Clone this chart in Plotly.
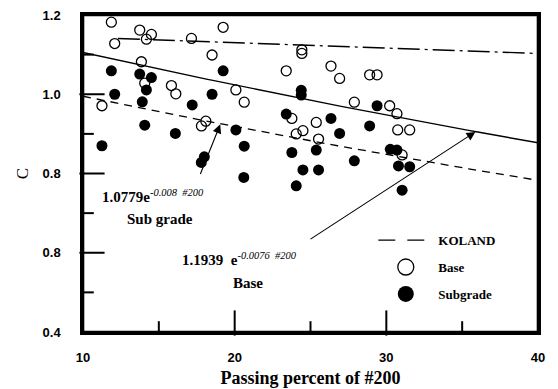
import numpy as np
import plotly.graph_objects as go

# ---- data ----
base_x = [11.87, 13.74, 14.51, 14.18, 12.09, 17.15, 19.24, 18.51, 13.85, 14.07, 15.83, 16.12,
          20.08, 20.63, 11.25, 18.10, 17.81, 24.43, 24.43, 23.40, 26.35, 26.92, 28.90, 29.39,
          27.89, 30.22, 30.70, 23.77, 25.38, 24.50, 24.06, 25.53, 30.75, 31.54, 31.04]
base_c = [1.182, 1.162, 1.151, 1.139, 1.128, 1.141, 1.169, 1.099, 1.082, 1.028, 1.022, 1.001,
          1.011, 0.980, 0.971, 0.932, 0.920, 1.112, 1.103, 1.059, 1.071, 1.040, 1.049, 1.049,
          0.980, 0.971, 0.951, 0.939, 0.929, 0.908, 0.900, 0.887, 0.910, 0.910, 0.847]

sub_x = [11.87, 13.74, 14.51, 14.18, 12.09, 13.91, 19.24, 18.51, 17.20, 14.07, 16.09, 11.25,
         17.80, 18.00, 20.08, 20.63, 20.60, 24.39, 24.39, 23.40, 26.35, 29.39, 28.90, 26.92,
         23.77, 25.38, 27.89, 30.26, 30.70, 30.80, 31.54, 24.50, 25.53, 24.06, 31.04]
sub_c = [1.059, 1.051, 1.042, 1.011, 1.000, 0.981, 1.059, 1.000, 0.973, 0.922, 0.901, 0.870,
         0.828, 0.842, 0.910, 0.869, 0.790, 1.010, 0.998, 0.950, 0.939, 0.971, 0.920, 0.901,
         0.853, 0.859, 0.832, 0.861, 0.859, 0.819, 0.817, 0.809, 0.809, 0.769, 0.758]

# fitted curves  C = a * exp(b * P200)
base_fit = (1.1939, -0.0077)
sub_fit = (1.0779, -0.008)
koland_fit = (1.158, -0.00122)
fit_range = [10, 40]
koland_range = [12.3, 40]

x_range = [10, 40]
y_range = [0.4, 1.2]
x_ticks = [10, 20, 30, 40]
x_ticktext = ["10", "20", "30", "40"]
x_minor = [15, 25, 35]
y_tickvals = [0.4, 0.6, 0.8, 1.0, 1.2]
y_ticktext = ["0.4", "0.8", "0.8", "1.0", "1.2"]
y_minor = [0.5, 0.7, 0.9, 1.1]

SERIF = "Liberation Serif, Times New Roman, serif"
SANS = "Liberation Sans, Arial, sans-serif"

W, H = 558, 389
M = dict(l=83, r=20, t=15, b=57)
plot_w = W - M["l"] - M["r"]
plot_h = H - M["t"] - M["b"]
ux = (x_range[1] - x_range[0]) / plot_w   # data units per pixel
uy = (y_range[1] - y_range[0]) / plot_h
MAJ, MIN = 18, 9                           # tick lengths in px
FRAME = 2.6                                # frame thickness in px


def curve(fit, rng):
    xs = np.linspace(rng[0], rng[1], 60)
    return xs, fit[0] * np.exp(fit[1] * xs)


fig = go.Figure()

xs, ys = curve(koland_fit, koland_range)
fig.add_trace(go.Scatter(x=xs, y=ys, mode="lines", showlegend=False, hoverinfo="skip",
                         line=dict(color="black", width=1.3, dash="22px,5px,3px,5px")))
xs, ys = curve(base_fit, fit_range)
fig.add_trace(go.Scatter(x=xs, y=ys, mode="lines", showlegend=False, hoverinfo="skip",
                         line=dict(color="black", width=1.4)))
xs, ys = curve(sub_fit, fit_range)
fig.add_trace(go.Scatter(x=xs, y=ys, mode="lines", showlegend=False, hoverinfo="skip",
                         line=dict(color="black", width=1.3, dash="8px,6px")))

fig.add_trace(go.Scatter(x=base_x, y=base_c, mode="markers", showlegend=False,
                         marker=dict(symbol="circle-open", size=10, color="black",
                                     line=dict(width=1.3, color="black"))))
fig.add_trace(go.Scatter(x=sub_x, y=sub_c, mode="markers", showlegend=False,
                         marker=dict(symbol="circle", size=11, color="black")))

# inside tick marks as line-shaped markers placed from the tick lists
def tick_markers(xv, yv, symbol, size):
    fig.add_trace(go.Scatter(x=xv, y=yv, mode="markers", showlegend=False, hoverinfo="skip",
                             cliponaxis=False,
                             marker=dict(symbol=symbol, size=size, color="black",
                                         line=dict(width=2, color="black"))))

xm = x_ticks[1:-1]
tick_markers(xm, [y_range[0] + MAJ / 2 * uy] * len(xm), "line-ns-open", MAJ)
tick_markers(x_minor, [y_range[0] + MIN / 2 * uy] * len(x_minor), "line-ns-open", MIN)
ym = y_tickvals[1:-1]
tick_markers([x_range[0] + MAJ / 2 * ux] * len(ym), ym, "line-ew-open", MAJ)
tick_markers([x_range[0] + MIN / 2 * ux] * len(y_minor), y_minor, "line-ew-open", MIN)

# plot frame as four filled bars
fx = FRAME / 2 / plot_w
fy = FRAME / 2 / plot_h
for x0, y0, x1, y1 in [(-fx, -fy, 1 + fx, fy), (-fx, 1 - fy, 1 + fx, 1 + fy),
                       (-fx, -fy, fx, 1 + fy), (1 - fx, -fy, 1 + fx, 1 + fy)]:
    fig.add_shape(type="rect", xref="paper", yref="paper", x0=x0, y0=y0, x1=x1, y1=y1,
                  fillcolor="black", line=dict(width=0), layer="above")

# legend-only entries
fig.add_trace(go.Scatter(x=[None], y=[None], mode="lines", name="KOLAND", legendgroup="a",
                         line=dict(color="black", width=1.3, dash="17px,12px")))
fig.add_trace(go.Scatter(x=[None], y=[None], mode="markers", name="Base", legendgroup="b",
                         marker=dict(symbol="circle-open", size=16, color="black",
                                     line=dict(width=1.3, color="black"))))
fig.add_trace(go.Scatter(x=[None], y=[None], mode="markers", name="Subgrade", legendgroup="c",
                         marker=dict(symbol="circle", size=16, color="black")))

# annotations
fig.add_annotation(x=11.1, y=0.742, xref="x", yref="y", xanchor="left", yanchor="middle",
                   text="<b>1.0779e</b><sup><i>-0.008  #200</i></sup>", showarrow=False,
                   font=dict(family=SERIF, size=15, color="black"))
fig.add_annotation(x=15.08, y=0.685, xref="x", yref="y", text="<b>Sub grade</b>",
                   showarrow=False, font=dict(family=SERIF, size=15, color="black"))
fig.add_annotation(x=16.4, y=0.583, xref="x", yref="y", xanchor="left", yanchor="middle",
                   text="<b>1.1939  e</b><sup><i>-0.0076  #200</i></sup>", showarrow=False,
                   font=dict(family=SERIF, size=15, color="black"))
fig.add_annotation(x=20.9, y=0.524, xref="x", yref="y", text="<b>Base</b>",
                   showarrow=False, font=dict(family=SERIF, size=15, color="black"))

# arrows
fig.add_annotation(x=35.87, y=0.905, ax=24.9, ay=0.632, xref="x", yref="y", axref="x", ayref="y",
                   text="", showarrow=True, arrowhead=2, arrowsize=1.6, arrowwidth=1.1,
                   arrowcolor="black")
fig.add_annotation(x=19.05, y=0.924, ax=17.7, ay=0.795, xref="x", yref="y", axref="x", ayref="y",
                   text="", showarrow=True, arrowhead=2, arrowsize=1.6, arrowwidth=1.1,
                   arrowcolor="black")

fig.update_layout(
    width=W, height=H,
    margin=dict(**M, autoexpand=False),
    paper_bgcolor="white", plot_bgcolor="white",
    showlegend=True,
    legend=dict(x=0.638, y=0.337, xanchor="left", yanchor="top", bgcolor="rgba(0,0,0,0)",
                font=dict(family=SERIF, size=13, color="black", weight="bold"),
                tracegroupgap=7, itemwidth=55),
)
fig.update_xaxes(range=x_range, tickmode="array", tickvals=x_ticks, ticktext=x_ticktext,
                 ticks="outside", ticklen=12, tickwidth=1, tickcolor="rgba(0,0,0,0)",
                 showline=True, linewidth=2.5, linecolor="black", mirror=True,
                 showgrid=False, zeroline=False, automargin=False,
                 tickfont=dict(family=SANS, size=13, color="black", weight="bold"),
                 title=dict(text="<b>Passing percent of #200</b>", standoff=8,
                            font=dict(family=SERIF, size=18, color="black")))
fig.update_yaxes(range=y_range, tickmode="array", tickvals=y_tickvals, ticktext=y_ticktext,
                 ticks="outside", ticklen=17, tickwidth=1, tickcolor="rgba(0,0,0,0)",
                 showline=True, linewidth=2.5, linecolor="black", mirror=True,
                 showgrid=False, zeroline=False, automargin=False,
                 tickfont=dict(family=SANS, size=13, color="black", weight="bold"),
                 title=dict(text="C", standoff=10,
                            font=dict(family=SERIF, size=17, color="black")))

fig.write_html("out.html", config={"displayModeBar": False},
               post_script="document.body.style.margin='0px';")
